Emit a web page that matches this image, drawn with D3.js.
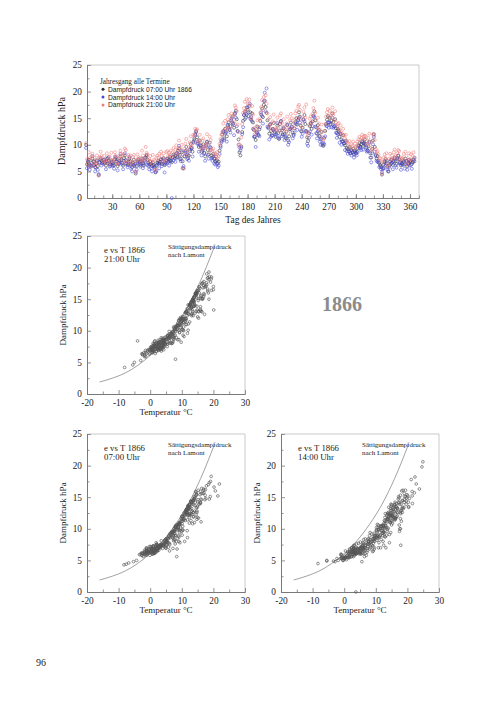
<!DOCTYPE html>
<html>
<head>
<meta charset="utf-8">
<script src="https://cdn.jsdelivr.net/npm/d3@7"></script>
<style>
  body { margin: 0; background: #fff; }
</style>
</head>
<body>
<svg id="page" width="504" height="712"></svg>
<script>
// Dampfdruck (hPa) per day of year 1866, one row = 10 days
var e07 = [
  10.0,6.3,6.8,7.2,6.1,5.9,6.6,7.4,6.9,6.2,
  5.8,6.4,7.1,6.0,4.3,6.7,7.3,7.0,6.5,6.8,
  7.2,6.6,6.1,6.9,7.5,7.0,6.4,6.3,7.1,6.8,
  6.5,6.2,7.3,7.6,6.9,6.0,6.4,7.0,7.8,7.2,
  6.6,6.1,7.5,8.0,7.1,6.5,6.2,6.8,7.4,6.9,
  6.3,5.8,6.6,7.2,6.4,4.6,6.0,6.9,7.3,6.7,
  6.2,6.8,7.4,6.5,6.1,7.0,7.6,8.1,7.2,6.6,
  6.3,6.9,6.4,6.0,6.7,6.2,5.8,4.8,6.1,6.6,
  7.0,6.5,6.8,7.3,6.4,6.9,7.5,6.2,6.6,7.1,
  7.4,6.8,7.2,7.8,7.0,6.7,7.6,8.2,7.5,7.9,
  8.4,7.7,8.9,9.3,8.1,7.4,8.6,6.9,5.6,7.8,
  8.8,9.6,8.2,7.5,8.0,9.1,10.2,9.4,8.7,10.6,
  11.2,12.0,12.6,11.4,10.3,9.6,10.8,9.9,8.7,9.3,
  10.1,8.5,7.8,9.7,10.6,9.0,8.2,10.4,9.5,8.0,
  7.6,8.3,7.4,6.9,7.8,7.1,6.5,6.8,8.9,9.8,
  10.7,11.9,12.4,11.2,13.0,12.3,11.6,13.6,14.2,12.8,
  13.5,14.6,15.3,14.0,13.2,15.8,16.4,14.8,12.6,11.0,
  8.6,8.0,9.7,12.4,14.5,15.6,16.2,15.1,17.0,16.6,
  15.4,17.3,16.1,14.7,15.9,14.2,12.8,11.5,10.9,12.3,
  13.4,11.8,12.9,14.5,15.7,16.8,15.2,17.5,18.3,17.1,
  16.0,14.6,13.3,12.1,13.8,12.6,11.7,13.0,14.1,12.4,
  11.5,12.8,13.6,12.2,11.1,13.9,14.4,12.7,11.9,13.1,
  12.0,11.3,12.5,13.7,10.8,11.6,12.9,14.2,13.4,12.3,
  11.9,13.1,14.3,15.0,13.8,14.7,16.1,15.3,13.6,12.5,
  13.2,14.8,15.6,13.9,12.6,11.4,10.7,12.2,13.5,14.1,
  13.0,14.4,15.5,16.3,14.6,13.3,12.1,13.7,12.8,11.6,
  11.0,12.4,10.2,9.8,11.3,12.6,13.9,14.7,15.4,14.2,
  15.1,13.8,14.5,15.9,14.3,13.5,14.8,13.1,12.2,13.0,
  12.7,11.5,12.1,11.0,10.6,11.8,10.3,9.9,10.8,9.4,
  9.2,8.8,9.6,8.4,9.0,8.6,9.3,8.2,8.9,8.5,
  8.7,9.4,9.9,10.3,9.6,10.1,10.7,9.8,10.4,11.0,
  10.2,9.5,8.9,9.7,10.6,8.4,7.6,9.2,10.8,12.0,
  9.6,8.1,7.4,7.9,7.0,6.6,6.2,5.8,4.4,5.6,
  6.3,6.9,7.3,6.5,5.9,5.0,6.1,6.8,7.2,6.6,
  6.2,7.0,7.6,6.9,6.4,7.5,8.0,7.3,6.7,6.1,
  6.5,7.1,6.8,6.3,7.4,6.9,6.0,6.6,7.2,6.8,
  7.0,6.4,6.7,7.3,6.9
];
var e14 = [
  9.4,5.6,7.0,6.4,5.3,6.2,6.0,7.9,6.1,6.8,
  5.0,5.7,6.9,5.3,4.5,6.6,7.6,6.1,6.8,7.2,
  6.4,6.9,5.4,7.4,6.5,7.7,5.9,6.0,6.8,6.1,
  6.1,5.5,7.8,6.9,7.3,5.2,6.6,6.5,8.3,7.0,
  6.3,5.4,7.0,8.4,6.4,6.9,5.8,6.3,7.7,6.1,
  5.5,5.0,6.3,6.1,6.0,4.9,5.3,6.6,7.1,6.4,
  5.9,6.5,7.1,5.6,6.3,7.5,6.8,7.9,6.2,6.0,
  5.4,6.4,5.6,5.0,6.2,6.0,5.5,4.9,5.1,6.3,
  6.7,5.6,6.5,7.2,6.0,7.3,6.6,4.8,6.3,6.9,
  6.6,7.4,6.1,7.0,6.9,0.0,7.7,7.1,8.0,6.8,
  7.5,8.4,8.2,9.8,7.3,6.9,8.9,5.6,6.0,7.9,
  8.5,8.9,7.3,8.0,7.0,8.8,9.5,9.3,7.8,10.4,
  10.9,11.8,12.4,10.2,10.6,8.7,9.9,9.7,8.0,9.0,
  9.3,8.4,7.0,9.9,10.5,8.1,7.4,9.6,9.0,7.4,
  7.0,7.8,6.5,6.3,7.0,6.4,5.8,6.1,8.3,9.5,
  10.4,11.0,12.6,10.9,12.1,12.5,10.6,13.8,13.2,12.9,
  12.3,14.9,14.2,13.9,11.8,16.0,15.1,13.5,12.5,10.0,
  9.5,8.9,9.4,12.0,13.3,15.6,14.8,15.9,15.7,17.1,
  16.1,17.8,14.9,15.2,14.4,13.0,11.5,11.6,9.6,12.4,
  12.2,11.9,11.6,13.3,16.1,15.4,14.0,18.2,19.8,16.3,
  20.6,13.4,13.1,11.0,13.9,11.5,11.8,12.9,12.8,12.1,
  11.8,12.0,14.1,11.2,11.4,12.7,14.5,11.6,12.0,13.2,
  10.9,11.6,11.2,13.8,10.0,10.5,12.9,13.1,13.4,11.2,
  11.7,12.3,14.0,13.9,12.8,14.6,15.1,14.2,12.6,11.5,
  12.1,14.7,14.4,12.6,12.4,10.2,9.8,11.3,12.5,13.9,
  11.9,13.5,15.3,15.2,13.4,12.2,11.2,12.6,11.7,10.6,
  10.0,11.2,9.9,10.4,10.1,11.6,13.6,13.5,14.2,13.2,
  14.2,13.9,13.3,15.1,13.2,13.4,13.6,12.3,11.3,12.0,
  12.4,10.4,12.0,10.0,10.7,10.6,10.2,9.0,10.5,8.8,
  8.3,9.2,8.7,8.4,8.0,8.9,8.5,7.6,8.7,8.3,
  8.0,8.6,9.7,9.4,9.3,9.0,10.5,9.1,10.2,10.1,
  9.4,8.7,8.9,8.8,10.4,7.6,6.7,8.4,10.1,11.5,
  8.7,7.9,7.0,6.8,6.7,5.8,6.0,5.4,4.8,5.4,
  5.6,6.6,6.2,7.0,5.3,5.0,5.8,6.9,6.4,7.2,
  5.4,6.8,7.4,6.1,5.7,7.3,7.9,6.5,6.6,5.3,
  6.3,6.2,6.9,5.5,6.5,7.0,5.3,6.4,6.1,6.9,
  6.2,5.5,6.8,7.1,7.6
];
var e21 = [
  10.3,7.3,6.4,8.6,7.5,5.9,7.8,8.3,6.5,7.6,
  6.1,7.0,8.0,6.5,4.2,7.6,8.7,7.9,7.2,6.9,
  7.9,7.0,6.6,8.4,7.1,6.3,7.8,6.9,8.5,7.0,
  7.0,7.3,8.6,7.9,6.6,6.4,7.8,7.4,8.9,8.3,
  7.8,6.8,8.2,9.3,9.0,7.0,6.7,8.1,7.6,8.0,
  6.8,6.2,7.7,8.1,6.9,5.0,7.1,8.2,7.6,7.2,
  7.5,6.7,8.9,8.0,7.2,7.4,9.6,8.5,8.2,7.0,
  7.3,7.9,6.8,6.4,8.1,7.2,7.0,5.3,7.6,8.0,
  7.6,8.3,7.1,8.7,7.9,6.8,8.4,7.4,7.0,8.6,
  8.8,7.9,8.5,8.1,8.9,7.7,8.6,9.4,8.0,9.1,
  9.9,8.3,9.1,10.8,9.4,8.9,10.0,8.1,5.5,9.3,
  10.2,11.1,8.8,8.0,9.6,10.5,11.6,9.7,10.3,11.9,
  11.6,13.0,12.7,12.9,10.6,10.9,11.9,10.1,9.2,10.8,
  11.2,9.8,9.4,10.0,12.0,10.3,8.6,11.5,10.9,9.1,
  8.9,9.3,8.0,8.4,8.2,8.6,7.5,7.9,10.2,11.1,
  11.9,12.4,14.0,12.7,14.5,13.0,13.3,14.8,15.6,13.1,
  14.6,15.9,15.1,15.5,14.2,17.4,17.0,16.3,13.8,12.4,
  10.1,9.6,11.4,13.9,16.0,16.9,18.1,16.4,18.6,17.8,
  16.8,18.5,17.6,15.0,17.3,15.7,13.1,12.0,12.6,13.5,
  14.6,13.2,14.8,16.0,17.1,18.4,16.5,19.0,18.2,19.3,
  17.7,15.9,14.8,13.6,15.2,14.0,13.0,14.4,15.7,12.8,
  13.0,14.2,15.1,13.4,12.6,15.5,15.9,14.1,13.3,14.8,
  13.4,12.8,14.0,15.3,12.2,13.1,14.6,15.8,15.0,13.9,
  13.1,14.6,15.9,16.4,15.0,17.2,17.5,16.6,15.1,13.3,
  14.4,16.2,17.0,15.1,17.6,12.4,11.8,13.7,14.9,15.3,
  14.2,15.8,16.9,18.3,16.0,14.6,13.2,15.1,14.0,12.9,
  12.2,13.8,11.4,11.0,12.6,13.9,15.3,16.1,16.7,15.4,
  16.4,15.0,15.9,17.0,15.6,14.6,16.3,14.2,13.5,13.9,
  14.1,12.8,13.6,12.3,11.9,13.0,11.8,11.2,11.9,10.6,
  10.4,9.9,10.7,9.5,10.1,9.8,10.6,9.3,10.2,9.6,
  9.8,10.6,11.0,11.5,10.9,11.3,11.9,11.0,11.6,11.7,
  11.6,10.7,10.2,11.3,12.1,9.9,9.0,10.6,12.0,11.8,
  10.9,9.2,8.6,8.8,8.2,7.4,7.5,6.9,4.6,6.9,
  7.6,8.2,7.5,8.4,6.3,5.9,7.4,8.3,7.3,8.0,
  7.3,8.6,9.1,7.9,7.6,8.4,9.0,8.8,7.1,7.4,
  7.6,7.4,8.3,6.9,8.7,7.9,6.4,7.2,8.4,7.3,
  8.2,7.0,7.9,8.6,7.4
];

// Temperatur (°C) at the same terms
var t07 = [
  7.5,-1.0,0.7,3.3,-2.4,-1.0,-0.9,3.1,0.5,1.5,
  -2.5,1.3,1.1,-3.1,-8.3,2.2,1.0,3.3,-1.3,1.2,
  0.9,1.6,-2.6,2.7,2.0,-1.2,0.9,-1.1,2.8,1.0,
  -1.2,0.6,1.8,4.3,-1.1,-1.5,1.6,1.7,1.9,2.6,
  1.3,-2.3,1.9,4.6,0.3,2.0,-0.4,-1.2,3.2,0.7,
  -0.9,-0.1,-1.8,2.4,-0.2,-6.8,0.8,0.1,3.2,0.9,
  1.0,-0.7,2.3,2.2,-1.7,2.1,2.1,5.1,-0.2,1.5,
  -0.5,2.0,-1.7,0.6,-0.2,1.7,-1.3,-5.3,1.2,0.3,
  2.5,2.3,0.6,4.2,0.4,3.9,3.3,-1.0,2.7,3.0,
  4.3,1.9,4.8,4.5,4.9,2.0,5.3,4.7,6.2,5.0,
  5.7,6.1,5.9,7.8,7.4,3.6,7.0,5.0,8.4,4.9,
  7.5,7.2,7.8,4.2,8.3,6.7,7.9,9.3,6.9,8.2,
  10.2,10.1,11.6,11.8,8.1,10.0,9.2,9.1,9.1,6.6,
  9.0,8.6,5.7,7.6,9.2,10.1,5.2,10.3,6.8,9.1,
  7.9,7.5,5.1,7.2,9.4,5.8,6.1,8.5,7.9,8.7,
  9.3,10.1,12.5,9.8,11.6,13.1,10.8,12.0,14.3,14.8,
  12.3,15.1,14.5,15.9,13.1,14.5,16.3,17.6,13.7,14.0,
  11.8,10.9,11.7,12.8,13.7,16.2,17.5,19.0,18.4,20.2,
  15.8,18.7,17.0,18.7,15.9,13.2,14.0,14.8,12.4,11.7,
  12.7,14.9,11.7,13.7,17.0,17.8,21.4,19.1,19.3,21.9,
  20.6,16.2,14.6,12.5,13.7,11.6,15.3,12.0,15.8,10.9,
  10.6,11.2,12.3,14.5,16.1,13.2,12.8,11.4,13.8,11.7,
  10.1,12.9,10.7,12.0,13.4,9.8,11.5,13.0,14.9,12.6,
  13.6,11.5,12.9,14.2,12.4,16.0,15.2,17.4,15.0,11.3,
  12.2,13.8,16.7,15.5,14.8,10.6,9.4,12.0,11.9,13.1,
  11.4,13.5,14.6,16.9,17.3,12.3,11.0,14.1,13.2,10.3,
  9.5,11.8,8.6,10.4,11.1,13.6,12.5,13.9,14.8,15.9,
  13.9,12.4,13.3,14.4,15.0,12.0,14.1,11.5,10.8,12.7,
  11.1,10.0,11.9,9.3,8.6,12.4,8.2,7.8,10.1,7.0,
  6.5,5.9,7.6,5.2,8.1,6.3,7.2,4.6,9.0,5.5,
  6.0,7.0,8.3,8.9,7.4,9.6,8.8,10.2,7.9,9.2,
  8.0,6.8,7.3,9.4,8.5,5.0,3.7,6.2,9.1,10.6,
  7.7,3.5,3.1,5.3,2.6,1.4,-1.2,-2.7,-7.6,-2.2,
  -1.8,2.5,0.9,1.2,-3.4,-4.3,1.2,0.9,0.1,1.5,
  -2.7,2.2,4.3,1.8,0.2,3.6,5.4,2.9,1.1,-0.9,
  0.6,3.1,1.4,-0.5,4.0,2.1,-1.6,1.3,2.7,0.9,
  2.5,0.0,1.6,3.4,2.0
];
var t14 = [
  8.2,2.3,2.4,3.5,-0.9,4.3,-1.0,5.1,3.3,1.7,
  -0.4,0.1,5.3,-2.3,-8.3,3.5,3.9,3.9,3.0,5.3,
  2.9,4.8,0.2,3.1,5.3,4.5,-1.0,2.7,2.5,3.5,
  3.0,0.0,5.9,6.0,3.1,-0.2,4.7,0.4,6.2,6.0,
  3.1,-0.8,5.8,6.7,1.7,5.1,-0.9,2.6,6.1,0.9,
  0.4,-5.5,3.7,1.6,3.8,-5.5,-1.0,3.7,5.5,1.9,
  2.5,2.4,6.3,1.2,1.1,6.2,3.5,8.2,1.5,3.6,
  1.5,1.7,3.0,-0.3,3.8,4.8,0.5,-3.4,0.7,4.9,
  5.8,2.4,3.3,7.4,2.8,6.7,7.4,5.6,3.1,7.2,
  6.5,5.8,6.6,6.7,4.2,3.7,9.2,9.4,7.7,9.5,
  8.6,7.6,10.4,10.2,8.3,6.2,8.0,6.4,5.3,8.5,
  9.4,11.2,9.0,7.6,8.3,10.6,10.4,12.1,14.3,11.8,
  12.6,12.9,14.8,13.4,10.8,10.9,13.7,10.2,9.6,11.5,
  12.3,9.5,13.2,11.0,13.2,9.4,12.5,13.6,10.4,17.9,
  10.8,11.0,9.2,7.2,11.5,9.0,7.0,5.9,11.7,12.4,
  12.4,14.6,14.0,15.3,14.6,16.2,17.4,15.0,16.8,18.1,
  15.2,17.4,19.0,19.6,15.8,18.2,19.1,20.4,16.9,17.8,
  12.6,12.2,14.7,14.6,16.8,19.0,20.6,21.5,22.2,22.8,
  19.4,21.2,19.8,21.5,18.3,15.6,16.0,17.8,17.5,14.2,
  14.8,16.5,13.6,15.3,18.6,19.9,21.6,22.4,24.6,23.8,
  24.9,18.9,16.3,14.4,17.5,13.8,15.6,14.9,17.9,13.5,
  14.7,15.2,17.3,18.1,16.1,15.8,18.5,13.9,16.8,14.6,
  13.2,15.6,12.9,16.0,17.6,12.4,14.8,17.0,18.4,15.1,
  16.3,14.2,16.6,18.0,15.4,19.1,19.5,20.3,17.8,13.9,
  15.0,17.1,19.6,18.4,17.9,12.7,12.0,14.8,13.8,16.0,
  14.0,16.3,17.8,20.1,20.4,15.4,13.3,16.7,16.2,12.2,
  11.6,14.4,10.8,13.0,13.9,16.2,14.9,16.5,17.3,18.7,
  16.1,14.8,15.7,17.2,18.3,14.1,15.9,13.6,12.7,15.4,
  13.0,11.7,14.3,11.1,10.5,15.0,10.2,9.7,12.4,9.2,
  9.4,8.7,11.2,7.9,12.3,9.8,10.6,7.3,13.0,8.2,
  8.8,10.1,11.9,12.6,9.5,13.4,11.8,14.3,10.7,12.9,
  11.2,9.6,10.4,12.8,11.5,7.7,6.1,9.0,12.2,13.5,
  10.3,7.0,5.3,8.1,4.6,3.2,2.1,0.4,-2.9,-0.6,
  1.5,3.6,5.7,2.3,0.1,-1.9,1.0,4.1,5.1,2.8,
  0.6,4.4,6.9,3.3,1.8,5.8,7.7,4.9,2.6,0.0,
  2.0,4.8,3.1,1.2,6.2,3.9,-0.4,2.4,5.3,3.0,
  4.3,1.7,2.9,5.5,7.9
];
var t21 = [
  7.7,0.7,1.6,4.3,0.4,-1.4,4.2,1.4,0.7,4.2,
  -1.7,1.1,4.3,-2.0,-8.1,1.7,5.7,1.4,3.2,-1.5,
  2.4,2.8,-1.4,4.2,0.5,-2.5,3.6,0.7,2.5,2.4,
  -0.7,2.5,3.8,4.6,0.6,-2.6,2.6,3.3,3.5,4.2,
  2.5,-0.9,4.5,5.5,6.5,-0.1,1.1,2.6,3.9,0.9,
  0.7,-2.4,3.6,2.3,2.6,-5.0,0.9,4.5,0.7,3.1,
  1.4,1.9,4.5,1.7,2.6,1.6,7.4,4.2,5.6,-0.1,
  1.2,1.2,1.9,-0.1,4.2,0.4,3.2,-3.0,2.6,4.4,
  3.6,3.7,3.7,5.3,4.7,3.5,4.1,3.6,4.3,4.9,
  5.8,5.4,4.4,6.4,6.3,3.6,7.5,7.0,6.8,7.2,
  8.1,7.2,6.1,9.7,6.5,7.5,7.9,7.1,8.0,7.9,
  7.8,10.0,7.4,6.8,6.8,9.6,10.0,9.3,8.6,10.5,
  11.3,11.5,12.1,11.1,10.6,9.3,10.0,10.4,7.5,8.9,
  9.7,9.3,7.0,10.6,11.1,7.9,9.1,11.0,8.9,10.7,
  8.3,10.4,5.9,6.0,9.8,8.7,5.4,4.8,10.2,12.1,
  11.4,13.6,12.6,13.2,13.9,15.4,13.3,13.9,14.4,16.1,
  13.7,14.7,16.4,16.0,14.0,16.3,17.5,18.2,15.9,13.1,
  12.0,11.8,12.5,13.9,15.5,17.2,18.6,19.4,18.8,17.0,
  16.7,19.4,17.8,18.6,17.9,14.6,14.5,15.3,13.2,12.7,
  13.8,15.9,13.6,14.4,17.6,18.3,20.0,17.9,19.3,18.6,
  19.1,17.0,15.2,13.1,14.8,12.5,16.4,12.9,17.1,11.9,
  11.4,12.8,13.6,15.9,17.2,14.0,14.3,12.4,14.9,13.3,
  11.9,14.2,12.4,13.8,15.0,11.4,13.1,14.5,16.5,13.7,
  15.2,13.0,14.3,15.3,13.6,17.0,16.4,18.2,16.0,20.1,
  13.3,14.9,20.0,16.7,16.6,11.7,10.4,13.2,13.4,14.0,
  12.6,14.6,15.5,18.1,18.4,13.5,12.1,15.3,14.2,11.3,
  10.6,13.0,9.7,11.5,12.2,14.8,13.9,14.6,15.7,16.9,
  14.8,13.5,14.4,15.5,16.2,13.0,15.1,12.6,11.7,13.9,
  12.0,11.1,12.9,10.2,9.5,13.4,9.2,8.7,11.3,8.0,
  7.6,7.0,8.6,6.2,9.1,7.3,8.2,5.7,10.0,6.6,
  7.1,8.3,9.4,9.9,8.5,10.6,9.8,11.3,9.0,10.2,
  9.1,7.9,8.4,10.3,9.6,6.0,4.8,7.4,10.1,11.0,
  8.7,5.6,4.2,6.3,3.7,2.4,1.6,0.3,-5.5,-0.4,
  1.2,2.8,4.5,1.5,-0.3,-1.8,0.7,3.3,4.0,2.0,
  0.3,3.2,5.4,2.9,1.3,-4.0,6.1,3.9,2.2,0.1,
  1.6,4.1,2.7,0.6,5.0,3.0,-1.2,2.3,3.6,1.9,
  3.4,0.9,2.5,4.6,2.8
];

// Sättigungsdampfdruck nach Lamont
var lamontT = [-16, -12, -8, -4, 0, 4, 8, 12, 16, 20.3];
var lamontE = [1.9, 2.5, 3.3, 4.5, 6.1, 8.1, 10.7, 13.9, 18.0, 23.3];

var dayTicks = [30, 60, 90, 120, 150, 180, 210, 240, 270, 300, 330, 360];
var dayMinor = d3.range(10, 371, 10);
var eTicks = [0, 5, 10, 15, 20, 25];
var eMinor = [2.5, 7.5, 12.5, 17.5, 22.5];
var tTicks = [-20, -10, 0, 10, 20, 30];
var tMinor = [-15, -5, 5, 15, 25];

var termColors = ['#2b2b33', '#4646d8', '#f07c7c'];
var termNames = ['Dampfdruck 07:00 Uhr 1866', 'Dampfdruck 14:00 Uhr', 'Dampfdruck 21:00 Uhr'];

var serif = "'Liberation Serif','Times New Roman',serif";
var sans = "'Liberation Sans',Arial,sans-serif";
var svg = d3.select("#page");

// plain hyphen minus, like the printed page
var plain = function(d) { return String(d); };

// box + inward ticks for one panel
function drawAxes(x, y, xMajor, xMinor) {
  var xr = x.range(), yr = y.range();

  svg.append("path")
     .attr("d", "M" + xr[0] + "," + yr[1] + "H" + xr[1] + "V" + yr[0])
     .attr("fill", "none")
     .attr("stroke", "#bcbcbc")
     .attr("stroke-width", 0.8);

  var parts = [
    {axis: d3.axisBottom(x).tickValues(xMinor).tickSizeInner(-2.5).tickFormat(""), t: "translate(0," + yr[0] + ")"},
    {axis: d3.axisBottom(x).tickValues(xMajor).tickSizeInner(-4).tickPadding(5).tickFormat(plain), t: "translate(0," + yr[0] + ")"},
    {axis: d3.axisLeft(y).tickValues(eMinor).tickSizeInner(-2.5).tickFormat(""), t: "translate(" + xr[0] + ",0)"},
    {axis: d3.axisLeft(y).tickValues(eTicks).tickSizeInner(-4).tickPadding(5).tickFormat(plain), t: "translate(" + xr[0] + ",0)"}
  ];
  parts.forEach(function(p) {
    var g = svg.append("g").attr("transform", p.t)
               .call(p.axis.tickSizeOuter(0));
    g.attr("font-family", serif).attr("font-size", 9.3);
    g.select(".domain").attr("stroke", "#777").attr("stroke-width", 0.9);
    g.selectAll(".tick line").attr("stroke", "#777").attr("stroke-width", 0.8);
    g.selectAll(".tick text").attr("fill", "#222");
  });
}

function label(txt, x, y, size, rot) {
  var t = svg.append("text")
     .attr("font-family", serif)
     .attr("font-size", size)
     .attr("fill", "#222")
     .attr("text-anchor", "middle")
     .text(txt);
  if (rot) t.attr("transform", "translate(" + x + "," + y + ") rotate(-90)");
  else t.attr("x", x).attr("y", y);
  return t;
}

// ---------- Jahresgang ----------
var xDay = d3.scaleLinear().domain([2, 370]).range([87, 419]);
var yTop = d3.scaleLinear().domain([0, 25]).range([198, 65]);

drawAxes(xDay, yTop, dayTicks, dayMinor);

[e07, e14, e21].forEach(function(series, k) {
  svg.append("g").selectAll("circle")
     .data(series)
     .enter()
     .append("circle")
     .attr("cx", function(d, i) { return xDay(i + 1); })
     .attr("cy", function(d) { return yTop(d); })
     .attr("r", 1.5)
     .attr("fill", "none")
     .attr("stroke", termColors[k])
     .attr("stroke-opacity", 0.8)
     .attr("stroke-width", 0.7);
});

label("Dampfdruck hPa", 65, 131, 10, true);
label("Tag des Jahres", 253, 223, 9.5);

svg.append("text")
   .attr("x", 100).attr("y", 83.5)
   .attr("font-family", serif).attr("font-size", 7.2)
   .attr("fill", "#222")
   .text("Jahresgang alle Termine");

var legend = svg.append("g").selectAll("g")
   .data(termNames)
   .enter()
   .append("g")
   .attr("transform", function(d, i) { return "translate(103," + (89.3 + i * 7.8) + ")"; });
legend.append("circle")
   .attr("r", 1.5)
   .attr("fill", function(d, i) { return termColors[i]; });
legend.append("text")
   .attr("x", 5).attr("y", 2.4)
   .attr("font-family", sans).attr("font-size", 6.7)
   .attr("fill", "#222")
   .text(function(d) { return d; });

// ---------- e vs T ----------
var panels = [
  {temps: t21, vals: e21, term: "21:00 Uhr", left: 87, top: 236},
  {temps: t07, vals: e07, term: "07:00 Uhr", left: 87, top: 434},
  {temps: t14, vals: e14, term: "14:00 Uhr", left: 281, top: 434}
];

panels.forEach(function(p) {
  var x = d3.scaleLinear().domain([-20, 30]).range([p.left, p.left + 158]);
  var y = d3.scaleLinear().domain([0, 25]).range([p.top + 158, p.top]);

  drawAxes(x, y, tTicks, tMinor);

  var line = d3.line()
     .x(function(d) { return x(d[0]); })
     .y(function(d) { return y(d[1]); })
     .curve(d3.curveMonotoneX);
  svg.append("path")
     .datum(d3.zip(lamontT, lamontE))
     .attr("d", line)
     .attr("fill", "none")
     .attr("stroke", "#8a8a8a")
     .attr("stroke-width", 0.8);

  svg.append("g").selectAll("circle")
     .data(d3.zip(p.temps, p.vals))
     .enter()
     .append("circle")
     .attr("cx", function(d) { return x(d[0]); })
     .attr("cy", function(d) { return y(d[1]); })
     .attr("r", 1.35)
     .attr("fill", "none")
     .attr("stroke", "#555")
     .attr("stroke-width", 0.65);

  svg.append("text")
     .attr("x", p.left + 17).attr("y", p.top + 17)
     .attr("font-family", serif).attr("font-size", 8.8).attr("fill", "#222")
     .text("e vs T 1866");
  svg.append("text")
     .attr("x", p.left + 17).attr("y", p.top + 26)
     .attr("font-family", serif).attr("font-size", 8.8).attr("fill", "#222")
     .text(p.term);

  svg.append("text")
     .attr("x", p.left + 81).attr("y", p.top + 13)
     .attr("font-family", serif).attr("font-size", 7).attr("fill", "#222")
     .text("Sättigungsdampfdruck");
  svg.append("text")
     .attr("x", p.left + 81).attr("y", p.top + 20.5)
     .attr("font-family", serif).attr("font-size", 7).attr("fill", "#222")
     .text("nach Lamont");

  label("Dampfdruck hPa", p.left - 21, p.top + 79, 9, true);
  label("Temperatur °C", p.left + 79, p.top + 179, 9);
});

svg.append("text")
   .attr("x", 342).attr("y", 311)
   .attr("text-anchor", "middle")
   .attr("font-family", serif).attr("font-size", 20)
   .attr("font-weight", "bold")
   .attr("fill", "#8c8c8c")
   .text("1866");

svg.append("text")
   .attr("x", 36).attr("y", 666)
   .attr("font-family", serif).attr("font-size", 10)
   .attr("fill", "#222")
   .text("96");
</script>
</body>
</html>
